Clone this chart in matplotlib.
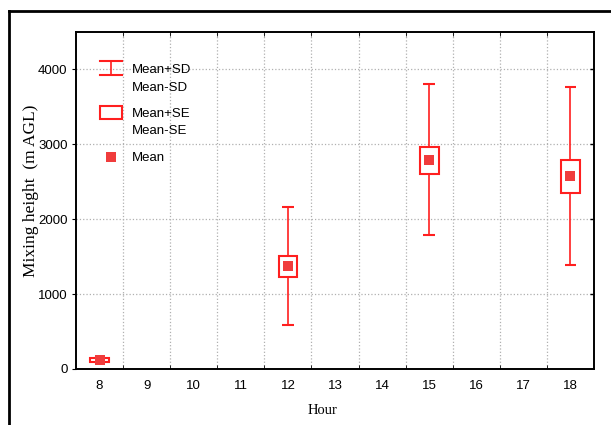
import matplotlib
matplotlib.use("Agg")
import matplotlib.pyplot as plt
from matplotlib.patches import Rectangle
from matplotlib.lines import Line2D

# data
hours = [8, 9, 10, 11, 12, 13, 14, 15, 16, 17, 18]
obs_hours = [8, 12, 15, 18]
mean = [120, 1370, 2790, 2580]
se_lo = [95, 1225, 2605, 2355]
se_hi = [150, 1510, 2965, 2790]
sd_lo = [95, 590, 1785, 1385]
sd_hi = [150, 2160, 3800, 3765]

red = "#ff1f1f"
sans = "Liberation Sans"
serif = "Liberation Serif"

fig = plt.figure(figsize=(6.11, 4.25), dpi=100)
ax = fig.add_axes([0.1244, 0.1318, 0.8478, 0.7929])

ax.set_xlim(7.5, 18.5)
ax.set_ylim(0, 4500)

# whiskers, SE boxes, means
for h, m, a, b, lo, hi in zip(obs_hours, mean, se_lo, se_hi, sd_lo, sd_hi):
    ax.vlines(h, lo, hi, color=red, lw=1.2, zorder=3)
    ax.hlines([lo, hi], h - 0.125, h + 0.125, color=red, lw=1.5, zorder=3)
    ax.add_patch(Rectangle((h - 0.2, a), 0.4, b - a, facecolor="white",
                           edgecolor=red, lw=1.5, zorder=4))
ax.scatter(obs_hours, mean, marker="s", s=42, color="#f03c3c", zorder=5,
           linewidths=0)

# axes styling
ax.set_xticks(hours)
ax.set_xticklabels([str(h) for h in hours], fontsize=9.5, family=sans)
ax.set_xticks([h + 0.5 for h in hours[:-1]], minor=True)
ax.tick_params(axis="x", which="major", length=0, pad=8)
ax.tick_params(axis="x", which="minor", direction="in", length=3,
               top=True, bottom=True)
ax.set_yticks([0, 1000, 2000, 3000, 4000])
ax.set_yticklabels(["0", "1000", "2000", "3000", "4000"], fontsize=9.5,
                   family=sans)
ax.tick_params(axis="y", direction="out", length=3, right=False, pad=3)
ax.grid(True, which="minor", axis="x", ls=":", color="#b0b0b0", lw=0.9)
for yv in [1000, 2000, 3000, 4000]:
    ax.axhline(yv, ls=":", color="#b0b0b0", lw=0.9, zorder=0)
    ax.plot([1], [yv], marker=0, color="k", ms=3, mew=1,
            transform=ax.get_yaxis_transform(), clip_on=False)
for s in ax.spines.values():
    s.set_linewidth(1.4)

ax.set_ylabel("Mixing height  (m AGL)", family=serif, fontsize=12.5)
ax.yaxis.set_label_coords(-0.072, 0.53)
ax.set_xlabel("Hour", family=serif, fontsize=10.5)
ax.xaxis.set_label_coords(0.475, -0.105)

# legend drawn by hand
t = ax.transAxes
ax.plot([0.068, 0.068], [0.873, 0.914], color=red, lw=1.2, transform=t)
ax.plot([0.046, 0.089], [0.914, 0.914], color=red, lw=1.5, transform=t)
ax.plot([0.046, 0.089], [0.873, 0.873], color=red, lw=1.5, transform=t)
ax.add_patch(Rectangle((0.046, 0.741), 0.043, 0.04, transform=t,
                       facecolor="white", edgecolor=red, lw=1.5, zorder=4))
ax.plot([0.068], [0.629], marker="s", ms=6.5, color="#f03c3c", mew=0,
        transform=t)
for txt, yy in [("Mean+SD", 0.887), ("Mean-SD", 0.834), ("Mean+SE", 0.757),
                ("Mean-SE", 0.707), ("Mean", 0.627)]:
    ax.text(0.1075, yy, txt, transform=t, fontsize=9.5, family=sans,
            va="center", ha="left")

# outer frame of the original figure
fig.add_artist(Line2D([9 / 611, 1.0], [1 - 11 / 425] * 2, color="k", lw=2,
                      transform=fig.transFigure))
fig.add_artist(Line2D([9 / 611] * 2, [0, 1 - 11 / 425], color="k", lw=2,
                      transform=fig.transFigure))

fig.savefig("out.png", dpi=100)
